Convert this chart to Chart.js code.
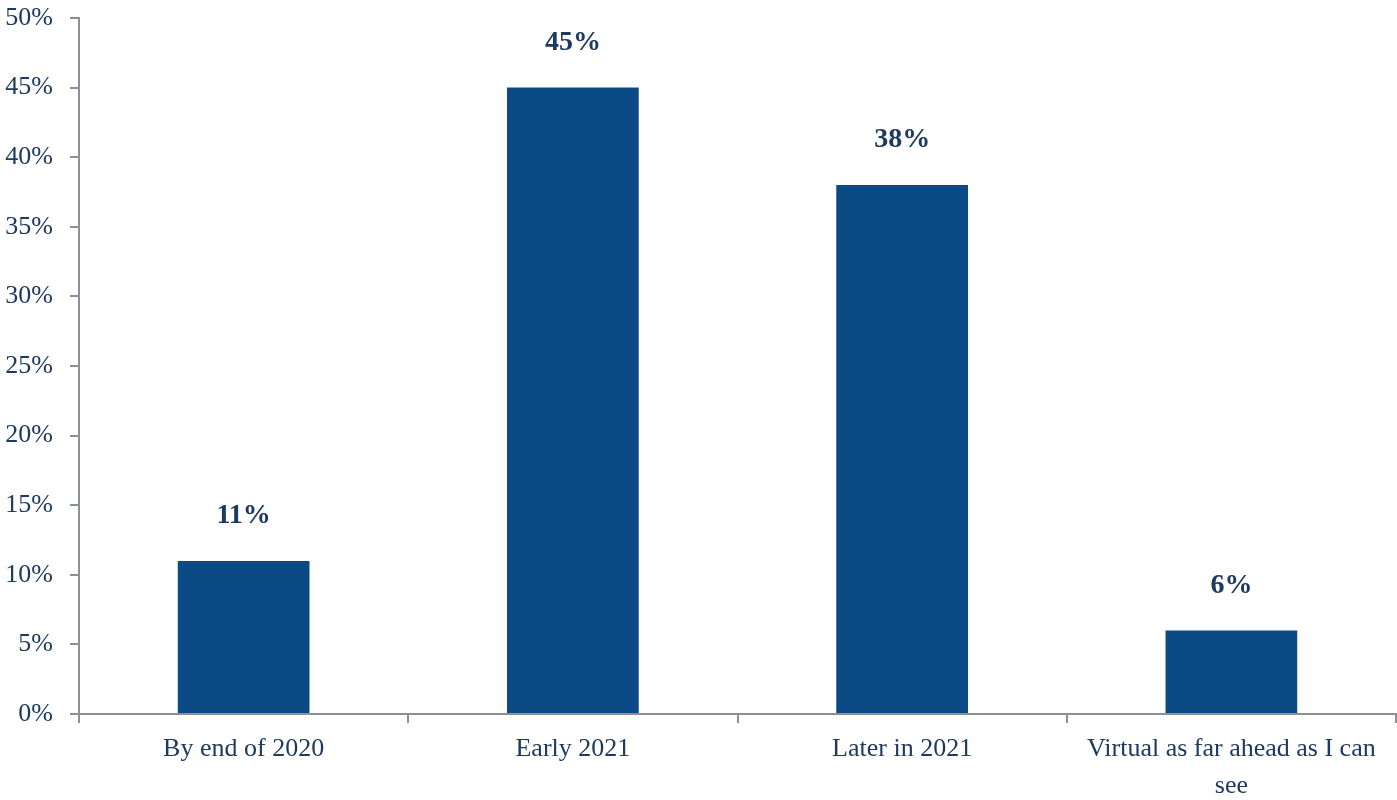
<!DOCTYPE html>
<html>
<head>
<meta charset="utf-8">
<script src="https://cdn.jsdelivr.net/npm/chart.js@4.4.0/dist/chart.umd.min.js"></script>
<style>
  html, body { margin: 0; padding: 0; background: #fff; }
  #wrap { width: 1397px; height: 800px; }
</style>
</head>
<body>
<div id="wrap"><canvas id="returnChart" width="1397" height="800"></canvas></div>
<script>
// survey answers: when people expect to return
var categories = ["By end of 2020", "Early 2021", "Later in 2021", ["Virtual as far ahead as I can", "see"]];
var shares = [11, 45, 38, 6];
var yTicks = [0, 5, 10, 15, 20, 25, 30, 35, 40, 45, 50];

var navy = "#0b4a85";
var textColor = "#1d3a60";
var axisColor = "#8b9099";
var serif = "'Liberation Serif', 'DejaVu Serif', serif";

/* value labels above each bar */
var barValueLabels = {
  id: "barValueLabels",
  afterDatasetsDraw: function (chart) {
    var ctx = chart.ctx;
    var meta = chart.getDatasetMeta(0);
    ctx.save();
    ctx.font = "bold 28px " + serif;
    ctx.fillStyle = textColor;
    ctx.textAlign = "center";
    ctx.textBaseline = "middle";
    meta.data.forEach(function (bar, i) {
      ctx.fillText(shares[i] + "%", bar.x, bar.y - 45);
    });
    ctx.restore();
  }
};

var ctx = document.getElementById("returnChart");
if (ctx) {
  ctx.getContext("2d");
  var chart = new Chart(ctx, {
    type: "bar",
    data: {
      labels: categories,
      datasets: [{
        data: shares,
        backgroundColor: navy,
        borderWidth: 0,
        barPercentage: 0.4,
        categoryPercentage: 1.0
      }]
    },
    options: {
      responsive: false,
      animation: false,
      layout: { padding: { top: 18, right: 1, left: 0, bottom: 0 } },
      plugins: {
        legend: { display: false },
        tooltip: { enabled: false }
      },
      scales: {
        x: {
          offset: true,
          border: { display: true, color: axisColor, width: 2 },
          grid: {
            display: true,
            offset: true,
            drawOnChartArea: false,
            drawTicks: true,
            tickLength: 9,
            color: axisColor,
            lineWidth: 2
          },
          ticks: {
            color: textColor,
            font: { family: serif, size: 26, lineHeight: 1.42 },
            padding: 8,
            maxRotation: 0,
            autoSkip: false
          },
          afterFit: function (scale) { scale.height = 86; }
        },
        y: {
          min: 0,
          max: 50,
          afterBuildTicks: function (scale) {
            scale.ticks = yTicks.map(function (v) { return { value: v }; });
          },
          border: { display: true, color: axisColor, width: 2 },
          grid: {
            display: true,
            drawOnChartArea: false,
            drawTicks: true,
            tickLength: 9,
            color: axisColor,
            lineWidth: 2
          },
          ticks: {
            color: textColor,
            font: { family: serif, size: 26 },
            padding: 17,
            callback: function (v) { return v + "%"; }
          },
          afterFit: function (scale) {
            scale.width = 79;
            scale.paddingTop = 0;
            scale.paddingBottom = 0;
          }
        }
      }
    },
    plugins: [barValueLabels]
  });
}
</script>
</body>
</html>
